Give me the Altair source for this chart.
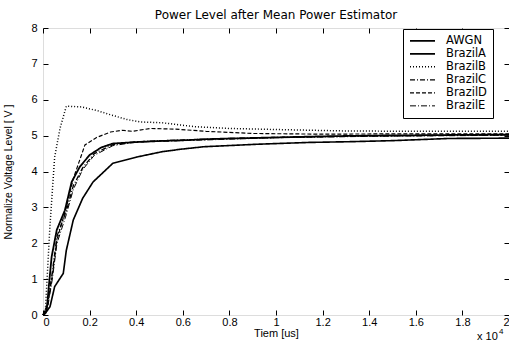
import altair as alt
import pandas as pd

# x in units of 1e4 us
awgn_x = [0, 0.01, 0.016, 0.025, 0.037, 0.059, 0.094, 0.123, 0.158, 0.2, 0.25, 0.3, 0.4, 0.5, 0.6, 0.7, 0.8, 1.0, 1.2, 1.4, 1.6, 1.8, 2.0]
awgn_y = [0, 0.05, 0.14, 0.8, 1.62, 2.37, 2.92, 3.71, 4.13, 4.46, 4.67, 4.78, 4.82, 4.85, 4.87, 4.9, 4.92, 4.95, 4.98, 5.0, 5.01, 5.02, 5.03]

a_x = [0, 0.01, 0.03, 0.05, 0.087, 0.10, 0.13, 0.17, 0.215, 0.3, 0.4, 0.51, 0.59, 0.69, 0.92, 1.14, 1.31, 1.5, 1.74, 2.0]
a_y = [0, 0.05, 0.23, 0.79, 1.16, 1.8, 2.65, 3.25, 3.71, 4.23, 4.4, 4.55, 4.62, 4.69, 4.76, 4.81, 4.83, 4.86, 4.92, 4.93]

b_x = [0, 0.01, 0.03, 0.05, 0.073, 0.10, 0.166, 0.236, 0.28, 0.36, 0.42, 0.51, 0.65, 0.8, 1.0, 1.3, 1.6, 2.0]
b_y = [0, 0.1, 2.5, 4.4, 5.2, 5.82, 5.8, 5.69, 5.6, 5.45, 5.38, 5.36, 5.25, 5.2, 5.17, 5.13, 5.12, 5.12]

c_x = [0, 0.02, 0.04, 0.06, 0.1, 0.13, 0.17, 0.22, 0.3, 0.4, 0.6, 0.8, 1.0, 1.4, 2.0]
c_y = [0, 0.3, 1.2, 2.2, 2.9, 3.6, 4.1, 4.5, 4.75, 4.83, 4.88, 4.92, 4.95, 4.99, 5.02]

d_x = [0, 0.02, 0.04, 0.06, 0.1, 0.13, 0.18, 0.23, 0.29, 0.34, 0.385, 0.46, 0.57, 0.7, 0.9, 1.2, 1.5, 2.0]
d_y = [0, 0.3, 1.1, 2.1, 3.0, 3.8, 4.74, 4.95, 5.1, 5.15, 5.12, 5.2, 5.18, 5.12, 5.06, 5.04, 5.05, 5.05]

e_x = [0, 0.02, 0.04, 0.06, 0.1, 0.13, 0.17, 0.22, 0.3, 0.4, 0.6, 0.8, 1.0, 1.4, 2.0]
e_y = [0, 0.2, 1.0, 2.0, 2.8, 3.5, 4.05, 4.45, 4.72, 4.82, 4.86, 4.9, 4.94, 4.98, 5.01]

series_names = ["AWGN", "BrazilA", "BrazilB", "BrazilC", "BrazilD", "BrazilE"]
series_x = [awgn_x, a_x, b_x, c_x, d_x, e_x]
series_y = [awgn_y, a_y, b_y, c_y, d_y, e_y]
dashes = [[1, 0], [1, 0], [1, 2], [5, 2, 1, 2], [4, 2], [6, 2, 1, 2]]
widths = [1.8, 1.0, 1.0, 0.8, 1.0, 0.8]

x_ticks = [0, 0.2, 0.4, 0.6, 0.8, 1, 1.2, 1.4, 1.6, 1.8, 2]
y_ticks = [0, 1, 2, 3, 4, 5, 6, 7, 8]

rows = []
for name, xs, ys in zip(series_names, series_x, series_y):
    for i, (xv, yv) in enumerate(zip(xs, ys)):
        rows.append({"series": name, "t": xv, "v": yv, "i": i})
df = pd.DataFrame(rows)

FONT = "Liberation Sans"

xscale = alt.Scale(domain=[0, 2], nice=False, zero=False)
yscale = alt.Scale(domain=[0, 8], nice=False)

lines = alt.Chart(df).mark_line(color="black").encode(
    x=alt.X("t:Q", scale=xscale, title="Tiem [us]",
            axis=alt.Axis(values=x_ticks, format="~g",
                          grid=False, domain=False, offset=-5, tickSize=5, labelPadding=1,
                          titlePadding=0, tickColor="black", labelColor="black", titleColor="black",
                          labelFontSize=11, titleFontSize=11, titleFontWeight="normal", labelFont=FONT, titleFont=FONT)),
    y=alt.Y("v:Q", scale=yscale, title="Normalize Voltage Level [ V ]",
            axis=alt.Axis(values=y_ticks, grid=False, domain=False, offset=-5, tickSize=5,
                          labelPadding=6, titlePadding=17, tickColor="black", labelColor="black", titleColor="black",
                          labelFontSize=11, titleFontSize=10.5, titleFontWeight="normal", labelFont=FONT, titleFont=FONT)),
    order="i:Q",
    strokeDash=alt.StrokeDash("series:N", scale=alt.Scale(domain=series_names, range=dashes),
                              legend=alt.Legend(title=None, orient="none", legendX=360, legendY=1,
                                                symbolType="stroke", symbolSize=625, symbolStrokeColor="black",
                                                symbolStrokeWidth=1, labelFontSize=11.5, labelFont="DejaVu Sans",
                                                labelColor="black", strokeColor="black", fillColor="white",
                                                padding=6, rowPadding=0, clipHeight=11.7, labelOffset=10)),
    strokeWidth=alt.StrokeWidth("series:N", scale=alt.Scale(domain=series_names, range=widths), legend=None),
)

frame = alt.Chart(df).mark_line(opacity=0).encode(
    x=alt.X("t:Q", scale=xscale, axis=alt.Axis(orient="top", values=x_ticks,
                                                labels=False, title=None, grid=False, domain=False,
                                                offset=-5, tickSize=5, tickColor="black")),
    y=alt.Y("v:Q", scale=yscale, axis=alt.Axis(orient="right", values=y_ticks, labels=False,
                                                title=None, grid=False, domain=False, offset=-5,
                                                tickSize=5, tickColor="black")),
    detail="series:N",
)

exp_base = alt.Chart(pd.DataFrame({"s": ["x 10"]})).mark_text(
    align="left", baseline="alphabetic", fontSize=11, font=FONT, color="black"
).encode(x=alt.value(434), y=alt.value(312), text="s:N")
exp_sup = alt.Chart(pd.DataFrame({"s": ["4"]})).mark_text(
    align="left", baseline="alphabetic", fontSize=8, font=FONT, color="black"
).encode(x=alt.value(456), y=alt.value(306), text="s:N")

chart = alt.layer(lines, frame, exp_base, exp_sup).resolve_axis(x="independent", y="independent").properties(
    width=466, height=287,
    title=alt.TitleParams("Power Level after Mean Power Estimator", fontSize=12, font="DejaVu Sans",
                          fontWeight="normal", color="black", offset=0, anchor="middle"),
    autosize=alt.AutoSizeParams(type="none"),
    padding={"left": 43, "top": 28, "right": 0, "bottom": 29},
).configure_view(stroke="black", strokeWidth=1.2).configure(background="white")

chart.save("out.html", embed_options={"renderer": "svg", "actions": False})
